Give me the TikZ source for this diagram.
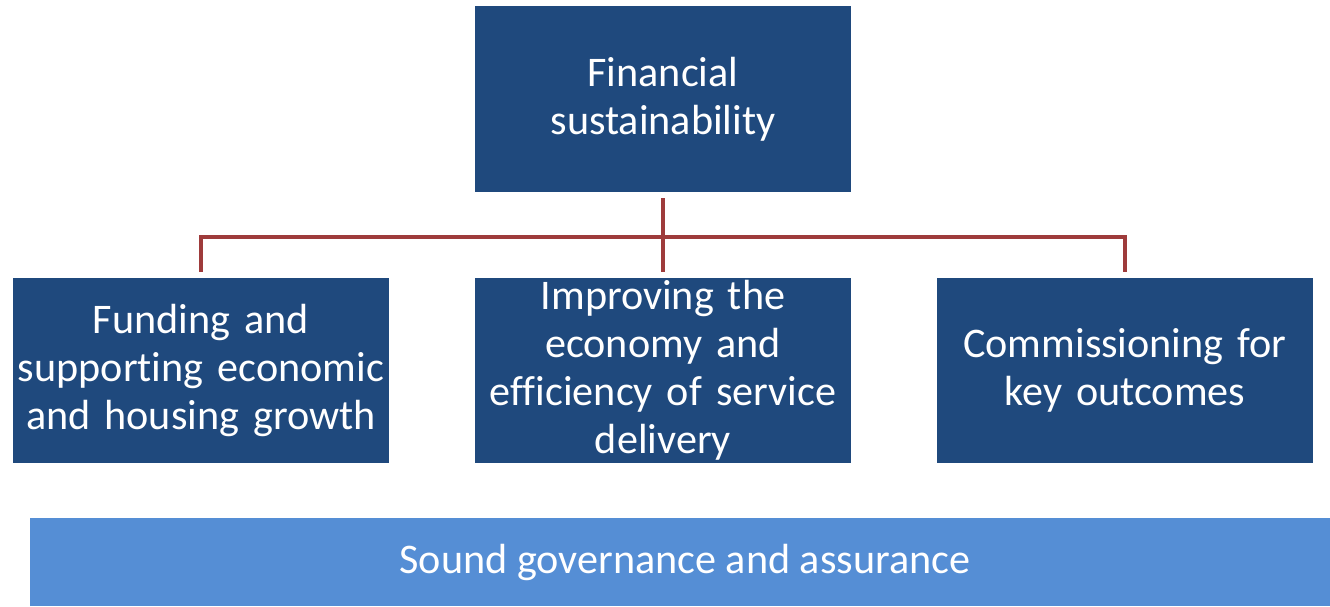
\documentclass[tikz,border=0pt]{standalone}
\usepackage{fontspec}
\setmainfont{Carlito}[Ligatures=NoCommon]
\usepackage{xcolor}
\usetikzlibrary{positioning}
\definecolor{boxblue}{HTML}{1F497D}
\definecolor{barblue}{HTML}{558ED5}
\definecolor{linkred}{HTML}{9E3B3B}
\tikzset{
  goal/.style={fill=boxblue, text=white, minimum width=7.52cm, minimum height=3.72cm,
               text width=7.52cm, align=center, inner sep=0pt,
               font=\fontsize{24}{27.4}\selectfont},
  base/.style={fill=barblue, text=white, minimum width=26cm, minimum height=1.76cm,
               inner sep=0pt, font=\fontsize{24}{27.4}\selectfont},
  link/.style={draw=linkred, line width=2.8pt, shorten <=0.12cm, shorten >=0.12cm},
}
\begin{document}
\begin{tikzpicture}[x=0.02cm, y=-0.02cm]
  \useasboundingbox (0,0) rectangle (1330,606);

  % Top goal
  \node[goal] (top) at (663,99) {Financial\\sustainability};

  % Three supporting goals
  \node[goal, minimum height=3.7cm] (fund) at (201,370.5) {Funding and\\supporting economic\\and housing growth};
  \node[goal, minimum height=3.7cm] (eff)  at (663,370.5) {Improving the\\economy and\\efficiency of service\\delivery};
  \node[goal, minimum height=3.7cm] (comm) at (1125,370.5) {Commissioning for\\key outcomes};

  % Foundation bar
  \node[base] (gov) at (680,562) {\hspace*{0.2cm}Sound governance and assurance};

  % Tree connectors
  \coordinate (bus) at (663,237);
  \draw[link] (top) -- (eff);
  \draw[link] (fund.north) |- (bus) -| (comm.north);
\end{tikzpicture}
\end{document}
